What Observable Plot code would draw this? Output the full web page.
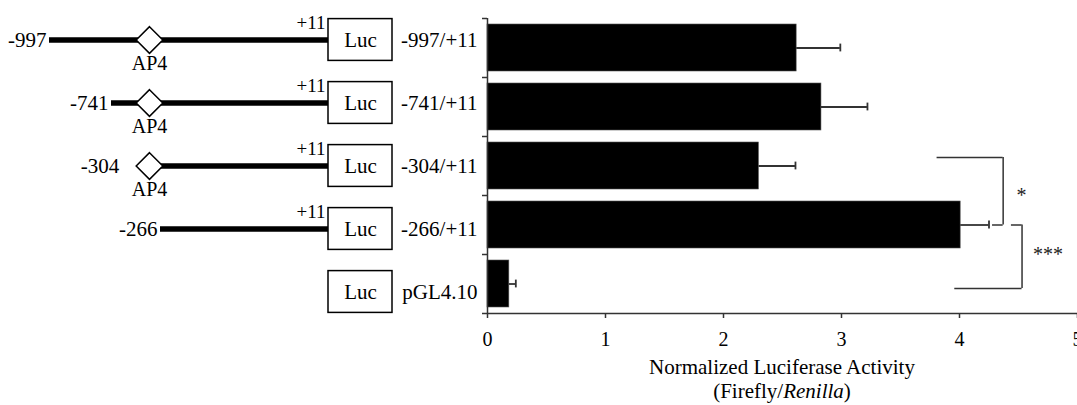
<!DOCTYPE html>
<html><head><meta charset="utf-8">
<script src="https://cdn.jsdelivr.net/npm/d3@7"></script>
<script src="https://cdn.jsdelivr.net/npm/@observablehq/plot@0.6"></script>
<style>
html,body{margin:0;padding:0;background:#fff;}
#wrap{position:relative;width:1077px;height:405px;overflow:hidden;font-family:"Liberation Serif","Times New Roman",serif;color:#000;}
#wrap svg{position:absolute;top:0;left:0;}
#cap{position:absolute;left:487px;width:590px;top:355px;text-align:center;font-size:21px;line-height:24px;}
</style></head><body>
<div id="wrap"><div id="cap">Normalized Luciferase Activity<br>(Firefly/<i>Renilla</i>)</div></div>
<script>
// ---- data ----
const constructs    = ["-997/+11", "-741/+11", "-304/+11", "-266/+11", "pGL4.10"];
const activity      = [2.62, 2.83, 2.30, 4.01, 0.185];
const errorBar      = [0.37, 0.39, 0.31, 0.24, 0.055];
const promoterStart = [-997, -741, -304, -266, null];
const hasAP4        = [true, true, true, false, false];
const xTicks        = [0, 1, 2, 3, 4, 5];
const significance  = [
  {from: "-304/+11", to: "-266/+11", label: "*"},
  {from: "-266/+11", to: "pGL4.10",  label: "***"}
];
const AP4_SITE = -290;   // schematic AP4 site position (bp)
const TSS = 11;          // +11
const LUC_END = 1664;    // end of luciferase box (schematic)

// ---- layout ----
const W = 1077, H = 405, X0 = 487, TOP = 18, AXIS_Y = 313;
const step = (AXIS_Y - TOP) / constructs.length;
const bw = step * 0.8;
const ink = "#333";
const font = "Liberation Serif, Times New Roman, serif";

const rows = constructs.map((c, i) => ({
  construct: c, value: activity[i], err: errorBar[i],
  hi: activity[i] + errorBar[i], start: promoterStart[i], ap4: hasAP4[i]
}));

// bracket geometry (x in data units, dy in px)
const bracketLayout = [
  {x: 4.37, fromArm: 3.81, toArm: 4.28, dyFrom: -8.5, dyTo: 0, lx: 4.525},
  {x: 4.53, fromArm: 4.44, toArm: 3.96, dyFrom: 0, dyTo: 4.5, lx: 4.75}
];
const brackets = significance.map((s, i) => ({...s, ...bracketLayout[i]}));

const bars = Plot.plot({
  width: W, height: H,
  marginLeft: X0, marginRight: 0, marginTop: TOP, marginBottom: H - AXIS_Y,
  style: {fontFamily: font, background: "transparent", color: "#000"},
  x: {type: "linear", domain: [0, 5], axis: null},
  y: {domain: constructs, paddingInner: 0.2, paddingOuter: 0.1, axis: null},
  marks: [
    Plot.barX(rows, {x: "value", y: "construct", fill: "#000", stroke: "#555", strokeWidth: 0.6}),
    Plot.ruleY(rows, {y: "construct", x1: "value", x2: "hi", stroke: ink, strokeWidth: 1.8}),
    Plot.tickX(rows, {x: "hi", y: "construct", stroke: ink, strokeWidth: 1.8, insetTop: (bw - 8) / 2, insetBottom: (bw - 8) / 2}),
    Plot.ruleX([0], {stroke: ink, strokeWidth: 1.5}),
    Plot.ruleY(rows, {y: "construct", x1: 0, x2: 0, insetLeft: -5, dy: -step / 2, stroke: ink, strokeWidth: 1.5}),
    Plot.ruleY(rows.slice(-1), {y: "construct", x1: 0, x2: 5, insetLeft: -5, dy: step / 2, stroke: ink, strokeWidth: 1.5}),
    Plot.axisX({ticks: xTicks, tickFormat: d3.format("d"), tickSize: 5, tickPadding: 13, fontSize: 20, stroke: ink, strokeWidth: 1.5, fill: "#000", label: null}),
    ...brackets.flatMap(b => [
      Plot.ruleY([b], {y: "from", x1: "fromArm", x2: "x", dy: b.dyFrom, stroke: ink, strokeWidth: 1.5}),
      Plot.ruleY([b], {y: "to", x1: "toArm", x2: "x", dy: b.dyTo, stroke: ink, strokeWidth: 1.5}),
      Plot.ruleX([b], {x: "x", y1: "from", y2: "to", insetTop: bw / 2 + b.dyFrom, insetBottom: bw / 2 - b.dyTo, stroke: ink, strokeWidth: 1.5}),
      Plot.text([b], {x: "lx", y: "from", text: "label", dy: 30, fontSize: 20, fill: "#222"})
    ])
  ]
});

const prom = rows.filter(d => d.start != null);
const startsAtSite = d => d.ap4 && Math.abs(d.start - AP4_SITE) < 30;

const diag = Plot.plot({
  width: X0, height: H,
  marginTop: 0, marginBottom: 0, marginLeft: 0, marginRight: 10,
  style: {fontFamily: font, background: "transparent", color: "#000"},
  x: {type: "linear", domain: [-997, -741, AP4_SITE, -266, TSS, LUC_END], range: [49, 111, 149, 160, 328, 392], axis: null},
  y: {domain: constructs, range: [7.5, 323.5], padding: 0, axis: null},
  marks: [
    Plot.ruleY(prom, {y: "construct", x1: "start", x2: () => TSS, stroke: "#000", strokeWidth: 5.5}),
    Plot.dot(rows.filter(d => d.ap4), {x: () => AP4_SITE, y: "construct", symbol: "diamond2", r: 12, fill: "#fff", stroke: "#000", strokeWidth: 1.5}),
    Plot.text(rows.filter(d => d.ap4), {x: () => AP4_SITE, y: "construct", text: () => "AP4", dy: 23.5, fontSize: 20}),
    Plot.text(prom.filter(d => !startsAtSite(d)), {x: "start", y: "construct", text: d => String(d.start), textAnchor: "end", dx: -3, fontSize: 21}),
    Plot.text(prom.filter(startsAtSite), {x: "start", y: "construct", text: d => String(d.start), textAnchor: "end", dx: -29, fontSize: 21}),
    Plot.text(prom, {x: () => TSS, y: "construct", text: () => "+11", textAnchor: "end", dx: -3, dy: -17, fontSize: 19}),
    Plot.barX(rows, {x1: () => TSS, x2: () => LUC_END, y: "construct", insetTop: 10.6, insetBottom: 10.6, fill: "#fff", stroke: "#000", strokeWidth: 1.5}),
    Plot.text(rows, {x: () => (TSS + LUC_END) / 2, y: "construct", text: () => "Luc", fontSize: 21}),
    Plot.text(rows, {y: "construct", text: "construct", frameAnchor: "right", textAnchor: "end", fontSize: 21})
  ]
});

const wrap = document.getElementById("wrap");
wrap.appendChild(bars);
wrap.appendChild(diag);
</script>
</body></html>
